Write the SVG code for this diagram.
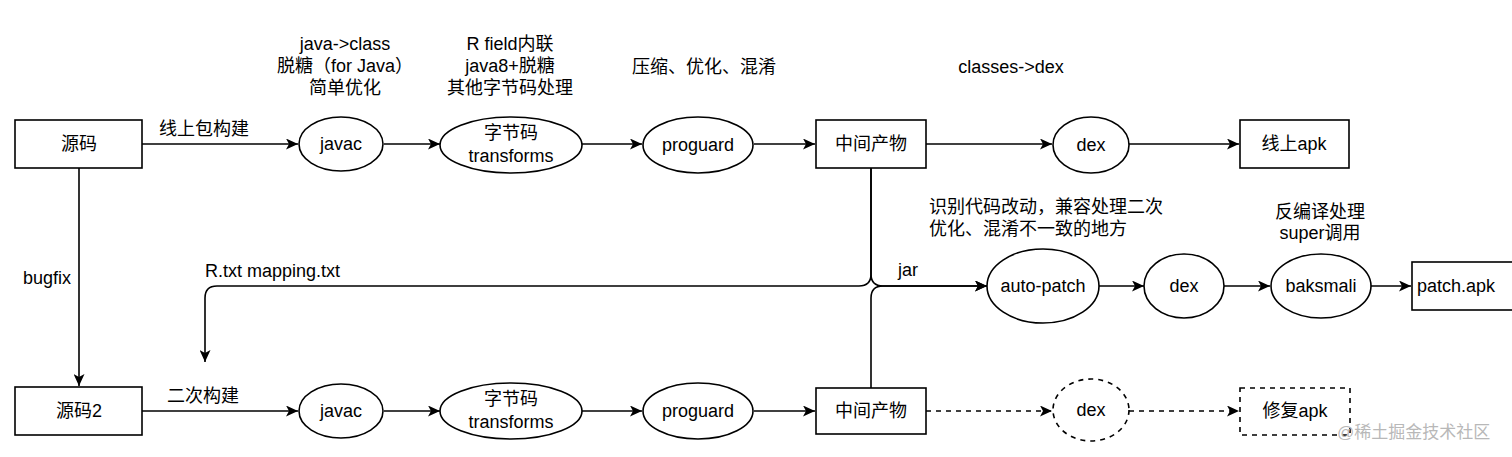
<svg xmlns="http://www.w3.org/2000/svg" width="1512" height="457" viewBox="0 0 1512 457">
<style>
text{font-family:"Liberation Sans","Noto Sans CJK SC",sans-serif;font-size:18px;fill:#000;dominant-baseline:central}
.c{text-anchor:middle}
.n{fill:#fff;stroke:#000;stroke-width:1.6}
.d{stroke-dasharray:5 5}
.e{fill:none;stroke:#000;stroke-width:1.6}
.wm{fill:#b8b8b8;font-size:17px}
</style>
<defs>
<marker id="a" markerUnits="userSpaceOnUse" markerWidth="13" markerHeight="11" refX="12" refY="5.5" orient="auto">
<path d="M0,0 L12,5.5 L0,11 L3,5.5 Z" fill="#000"/>
</marker>
</defs>
<rect width="1512" height="457" fill="#fff"/>
<g id="connectors">
<path class="e" d="M142,144 L298,144" marker-end="url(#a)"/>
<path class="e" d="M384,144 L440,144" marker-end="url(#a)"/>
<path class="e" d="M582,144 L642,144" marker-end="url(#a)"/>
<path class="e" d="M754,144 L815,144" marker-end="url(#a)"/>
<path class="e" d="M926,144 L1052,144" marker-end="url(#a)"/>
<path class="e" d="M1129,144 L1239,144" marker-end="url(#a)"/>
<path class="e" d="M79,168 L79,386" marker-end="url(#a)"/>
<path class="e" d="M142,411 L298,411" marker-end="url(#a)"/>
<path class="e" d="M384,411 L440,411" marker-end="url(#a)"/>
<path class="e" d="M582,411 L642,411" marker-end="url(#a)"/>
<path class="e" d="M754,411 L815,411" marker-end="url(#a)"/>
<path class="e d" d="M926,411 L1052,411" marker-end="url(#a)"/>
<path class="e d" d="M1129,411 L1239,411" marker-end="url(#a)"/>
<path class="e" d="M871,168 L871,274 Q871,286 859,286 L217,286 Q205,286 205,298 L205,362" marker-end="url(#a)"/>
<path class="e" d="M871,168 L871,274 Q871,286 883,286 L987,286" marker-end="url(#a)"/>
<path class="e" d="M871,388 L871,298 Q871,286 883,286 L987,286" marker-end="url(#a)"/>
<path class="e" d="M1099,286 L1144,286" marker-end="url(#a)"/>
<path class="e" d="M1224,286 L1270,286" marker-end="url(#a)"/>
<path class="e" d="M1371,286 L1411,286" marker-end="url(#a)"/>
</g>
<g id="labels">
<text x="204" y="129" class="c">线上包构建</text>
<text x="345" y="44" class="c">java-&gt;class</text>
<text x="345" y="66" class="c">脱糖（for Java）</text>
<text x="345" y="88" class="c">简单优化</text>
<text x="510" y="44" class="c">R field内联</text>
<text x="510" y="66" class="c">java8+脱糖</text>
<text x="510" y="88" class="c">其他字节码处理</text>
<text x="704" y="67" class="c">压缩、优化、混淆</text>
<text x="1011" y="67" class="c">classes-&gt;dex</text>
<text x="47" y="278" class="c">bugfix</text>
<text x="205" y="271">R.txt mapping.txt</text>
<text x="203" y="396" class="c">二次构建</text>
<text x="898" y="270">jar</text>
<text x="929" y="207">识别代码改动，兼容处理二次</text>
<text x="929" y="229">优化、混淆不一致的地方</text>
<text x="1320" y="212" class="c">反编译处理</text>
<text x="1320" y="233" class="c">super调用</text>
</g>
<g id="src"><rect class="n" x="15" y="120" width="127" height="48"/><text x="79" y="144" class="c">源码</text></g>
<g id="javac1"><ellipse class="n" cx="341" cy="144" rx="42" ry="27"/><text x="341" y="144" class="c">javac</text></g>
<g id="trans1"><ellipse class="n" cx="511" cy="145" rx="71" ry="28"/><text x="511" y="133" class="c">字节码</text><text x="511" y="156" class="c">transforms</text></g>
<g id="pg1"><ellipse class="n" cx="698" cy="145" rx="55" ry="28"/><text x="698" y="145" class="c">proguard</text></g>
<g id="mid1"><rect class="n" x="816" y="120" width="110" height="48"/><text x="871" y="144" class="c">中间产物</text></g>
<g id="dex1"><ellipse class="n" cx="1091" cy="145" rx="38" ry="28"/><text x="1091" y="145" class="c">dex</text></g>
<g id="apk1"><rect class="n" x="1240" y="120" width="109" height="48"/><text x="1294" y="144" class="c">线上apk</text></g>
<g id="src2"><rect class="n" x="15" y="387" width="127" height="48"/><text x="79" y="411" class="c">源码2</text></g>
<g id="javac2"><ellipse class="n" cx="341" cy="411" rx="42" ry="27"/><text x="341" y="411" class="c">javac</text></g>
<g id="trans2"><ellipse class="n" cx="511" cy="411" rx="71" ry="28"/><text x="511" y="399" class="c">字节码</text><text x="511" y="422" class="c">transforms</text></g>
<g id="pg2"><ellipse class="n" cx="698" cy="411" rx="55" ry="28"/><text x="698" y="411" class="c">proguard</text></g>
<g id="mid2"><rect class="n" x="816" y="388" width="110" height="46"/><text x="871" y="411" class="c">中间产物</text></g>
<g id="dex2"><ellipse class="n d" cx="1091" cy="410" rx="38" ry="31"/><text x="1091" y="410" class="c">dex</text></g>
<g id="apk2"><rect class="n d" x="1240" y="388" width="110" height="47"/><text x="1295" y="411" class="c">修复apk</text></g>
<g id="autopatch"><ellipse class="n" cx="1043" cy="286" rx="56" ry="37"/><text x="1043" y="286" class="c">auto-patch</text></g>
<g id="dex3"><ellipse class="n" cx="1184" cy="286" rx="40" ry="32"/><text x="1184" y="286" class="c">dex</text></g>
<g id="baksmali"><ellipse class="n" cx="1321" cy="286" rx="50" ry="32"/><text x="1321" y="286" class="c">baksmali</text></g>
<g id="patchapk"><rect class="n" x="1412" y="262" width="110" height="48"/><text x="1456" y="286" class="c">patch.apk</text></g>
<text x="1337" y="432" class="wm">@稀土掘金技术社区</text>
</svg>
